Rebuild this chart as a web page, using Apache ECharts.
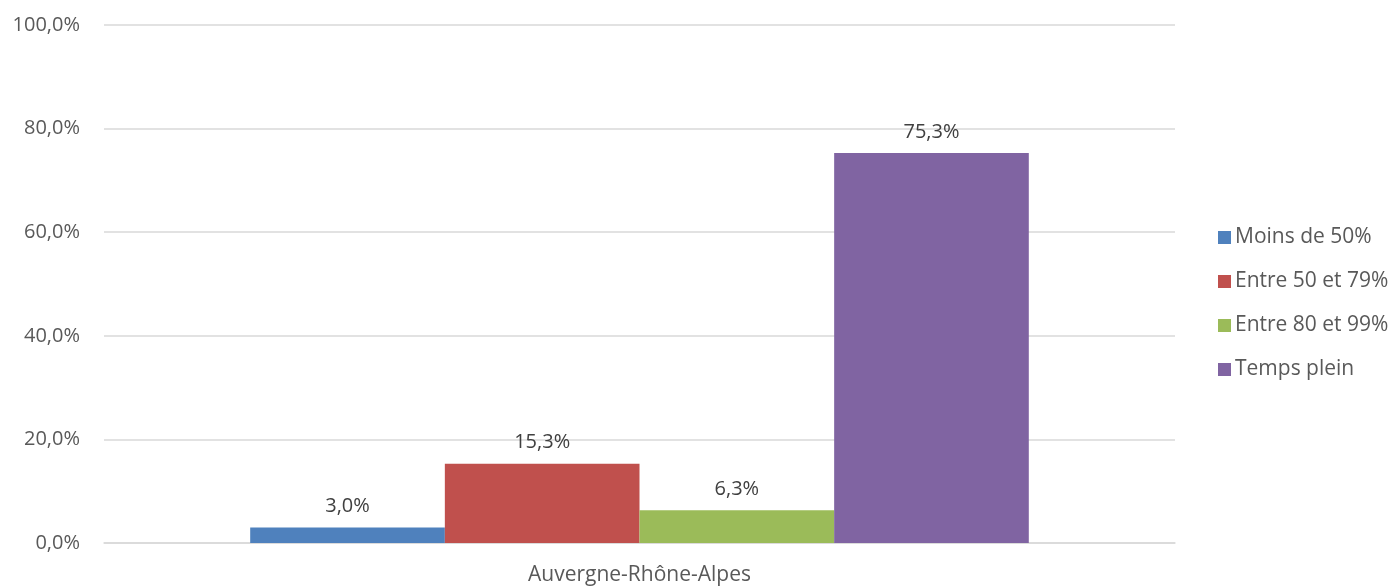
<!DOCTYPE html>
<html>
<head>
<meta charset="utf-8">
<script src="https://cdn.jsdelivr.net/npm/echarts@6/dist/echarts.min.js"></script>
<style>
  html, body { margin: 0; padding: 0; background: #fff; }
  #chart { width: 1392px; height: 586px; }
</style>
</head>
<body>
<div id="chart"></div>
<script>
// Répartition par quotité de temps de travail
const categories = ['Auvergne-Rhône-Alpes'];
const seriesNames = ['Moins de 50%', 'Entre 50 et 79%', 'Entre 80 et 99%', 'Temps plein'];
const seriesValues = [[3.0], [15.3], [6.3], [75.3]];
const seriesColors = ['#4F81BD', '#C0504D', '#9BBB59', '#8064A2'];

const fontFamily = '"Open Sans", "Liberation Sans", sans-serif';
const textColor = '#595959';
const fmt = v => v.toFixed(1).replace('.', ',') + '%';

const chart = echarts.init(document.getElementById('chart'));
chart.setOption({
  animation: false,
  textStyle: { fontFamily: fontFamily },
  grid: { left: 104, right: 217, top: 25, bottom: 42, containLabel: false },
  legend: {
    orient: 'vertical',
    left: 1213,
    top: 222,
    itemWidth: 13,
    itemHeight: 13,
    itemGap: 23,
    icon: 'rect',
    data: seriesNames,
    textStyle: { color: textColor, fontSize: 21, fontFamily: fontFamily, padding: [0, 0, 0, -1] }
  },
  xAxis: {
    type: 'category',
    data: categories,
    axisLine: { lineStyle: { color: '#d9d9d9', width: 1.5 } },
    axisTick: { show: false },
    axisLabel: { color: textColor, fontSize: 21, margin: 22, fontFamily: fontFamily }
  },
  yAxis: {
    type: 'value',
    min: 0,
    max: 100,
    interval: 20,
    axisLine: { show: false },
    axisTick: { show: false },
    splitLine: { lineStyle: { color: '#d9d9d9', width: 1.5 } },
    axisLabel: { color: textColor, fontSize: 20, margin: 24, fontFamily: fontFamily, formatter: fmt }
  },
  series: seriesNames.map((name, i) => ({
    name: name,
    type: 'bar',
    data: seriesValues[i],
    barGap: '0%',
    barCategoryGap: '27.3%',
    itemStyle: { color: seriesColors[i] },
    label: {
      show: true,
      position: 'top',
      distance: 11,
      color: '#404040',
      fontSize: 20,
      fontFamily: fontFamily,
      formatter: p => fmt(p.value)
    }
  }))
});
</script>
</body>
</html>
